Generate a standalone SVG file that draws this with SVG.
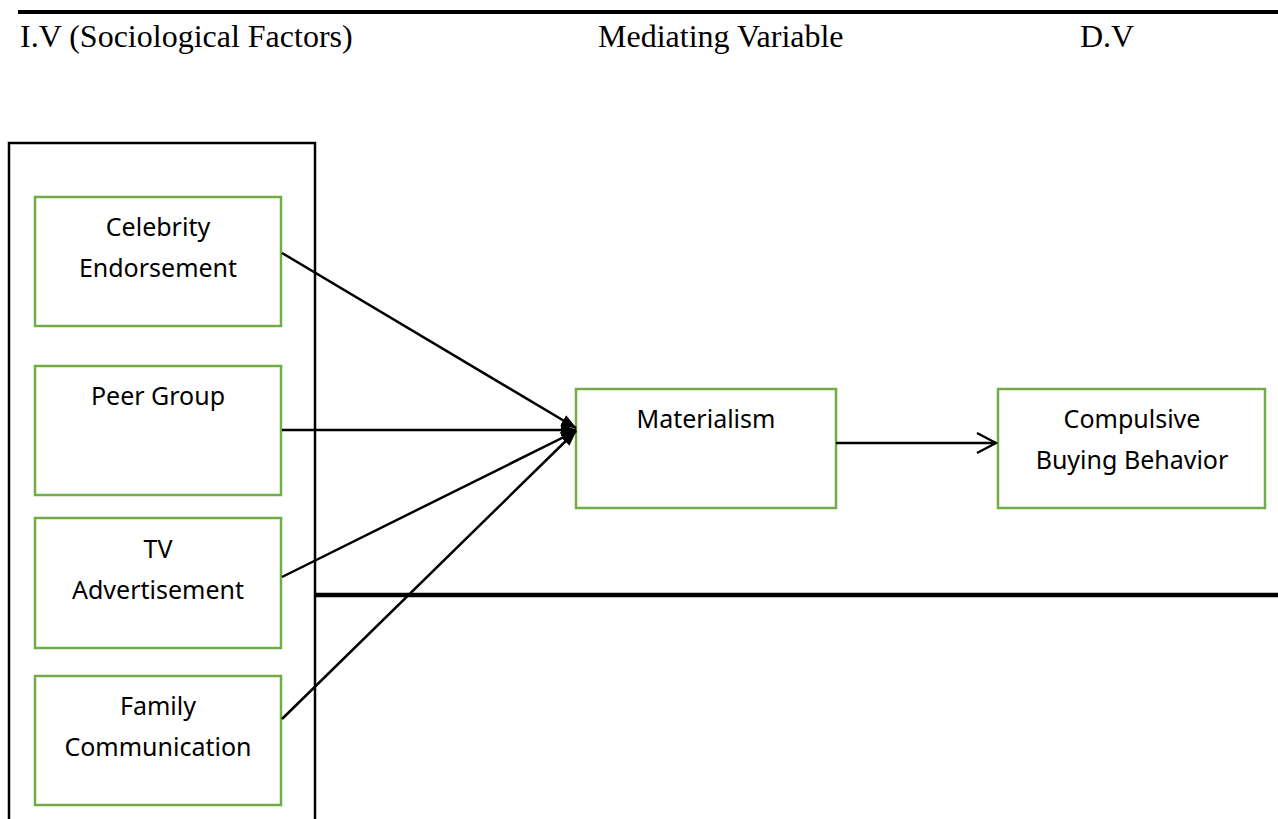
<svg xmlns="http://www.w3.org/2000/svg" width="1278" height="819" viewBox="0 0 1278 819">
<style>
.hdr{font-family:"Liberation Serif","Times New Roman",serif;font-size:32px;fill:#000}
.lbl{font-family:"Noto Sans","Open Sans",sans-serif;font-size:25px;fill:#000;text-anchor:middle}
.node rect{fill:#fff;stroke:#70AD47;stroke-width:2.5}
.conn line{stroke:#000;stroke-width:2.5}
</style>
<defs>
<marker id="fill" viewBox="0 0 16 12" refX="15" refY="6" markerWidth="16" markerHeight="12" markerUnits="userSpaceOnUse" orient="auto">
<path d="M0,0 L16,6 L0,12 Z" fill="#000"/>
</marker>
<marker id="open" viewBox="0 0 22 24" refX="20" refY="12" markerWidth="22" markerHeight="24" markerUnits="userSpaceOnUse" orient="auto">
<path d="M1,2 L20,12 L1,22" fill="none" stroke="#000" stroke-width="2.5"/>
</marker>
</defs>
<rect width="1278" height="819" fill="#fff"/>
<line x1="18" y1="12" x2="1278" y2="12" stroke="#000" stroke-width="4"/>
<text class="hdr" x="20" y="47">I.V (Sociological Factors)</text>
<text class="hdr" x="598" y="47">Mediating Variable</text>
<text class="hdr" x="1080" y="47">D.V</text>
<g id="iv-group">
<rect x="9" y="143" width="306" height="690" fill="none" stroke="#000" stroke-width="2.5"/>
</g>
<line x1="315" y1="595" x2="1278" y2="595" stroke="#000" stroke-width="4.5"/>
<g id="celebrity" class="node">
<rect x="35" y="197" width="246" height="129"/>
<text class="lbl" x="158" y="236">Celebrity</text>
<text class="lbl" x="158" y="277">Endorsement</text>
</g>
<g id="peer" class="node">
<rect x="35" y="366" width="246" height="129"/>
<text class="lbl" x="158" y="405">Peer Group</text>
</g>
<g id="tv" class="node">
<rect x="35" y="518" width="246" height="130"/>
<text class="lbl" x="158" y="558">TV</text>
<text class="lbl" x="158" y="599">Advertisement</text>
</g>
<g id="family" class="node">
<rect x="35" y="676" width="246" height="129"/>
<text class="lbl" x="158" y="715">Family</text>
<text class="lbl" x="158" y="756">Communication</text>
</g>
<g id="materialism" class="node">
<rect x="576" y="389" width="260" height="119"/>
<text class="lbl" x="706" y="428">Materialism</text>
</g>
<g id="compulsive" class="node">
<rect x="998" y="389" width="267" height="119"/>
<text class="lbl" x="1132" y="428">Compulsive</text>
<text class="lbl" x="1132" y="469">Buying Behavior</text>
</g>
<g id="connectors" class="conn">
<line x1="282" y1="253" x2="576" y2="428" marker-end="url(#fill)"/>
<line x1="282" y1="430" x2="576" y2="430" marker-end="url(#fill)"/>
<line x1="282" y1="577" x2="576" y2="431" marker-end="url(#fill)"/>
<line x1="282" y1="719" x2="576" y2="431" marker-end="url(#fill)"/>
<line x1="836" y1="443" x2="996" y2="443" marker-end="url(#open)"/>
</g>
</svg>
